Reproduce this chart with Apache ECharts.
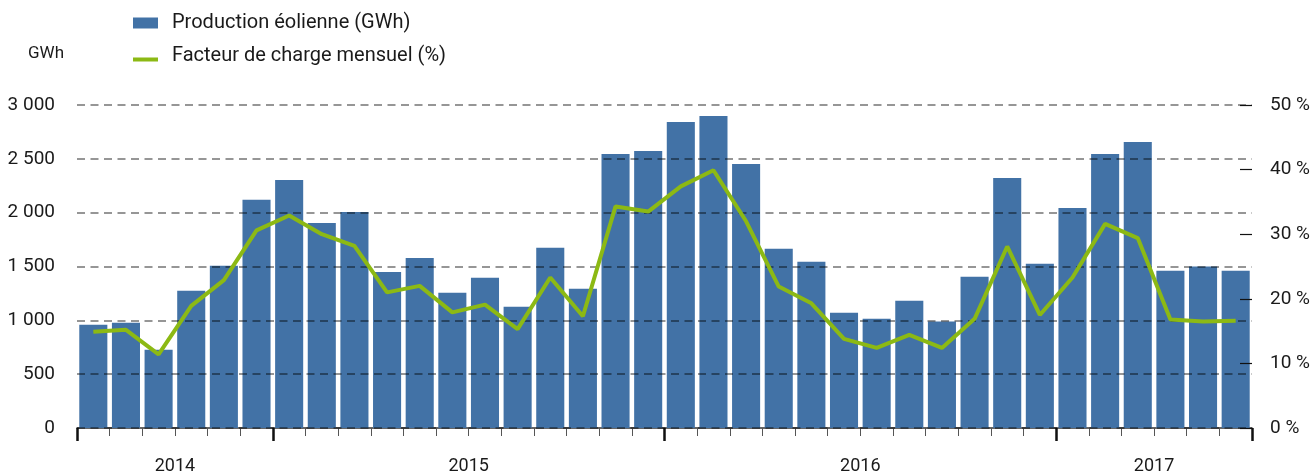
<!DOCTYPE html>
<html>
<head>
<meta charset="utf-8">
<script src="https://cdn.jsdelivr.net/npm/echarts@6/dist/echarts.min.js"></script>
<style>
html,body{margin:0;padding:0;background:#fff;}
#c{width:1316px;height:475px;}
</style>
</head>
<body>
<div id="c"></div>
<script>
const months = [
  'juil. 2014','août 2014','sept. 2014','oct. 2014','nov. 2014','déc. 2014',
  'janv. 2015','févr. 2015','mars 2015','avr. 2015','mai 2015','juin 2015',
  'juil. 2015','août 2015','sept. 2015','oct. 2015','nov. 2015','déc. 2015',
  'janv. 2016','févr. 2016','mars 2016','avr. 2016','mai 2016','juin 2016',
  'juil. 2016','août 2016','sept. 2016','oct. 2016','nov. 2016','déc. 2016',
  'janv. 2017','févr. 2017','mars 2017','avr. 2017','mai 2017','juin 2017'
];
const production = [
  960, 977, 727, 1274, 1506, 2119,
  2304, 1905, 2007, 1450, 1580, 1256,
  1395, 1126, 1673, 1293, 2545, 2573,
  2842, 2898, 2453, 1664, 1543, 1070,
  1014, 1181, 990, 1404, 2323, 1525,
  2044, 2545, 2657, 1460, 1500, 1460
];
const loadFactor = [
  14.9, 15.2, 11.4, 18.9, 22.9, 30.6,
  32.9, 30.0, 28.2, 21.0, 22.0, 17.9,
  19.1, 15.3, 23.3, 17.3, 34.3, 33.5,
  37.4, 39.9, 32.0, 21.9, 19.3, 13.8,
  12.4, 14.4, 12.4, 16.9, 28.1, 17.5,
  23.3, 31.6, 29.4, 16.8, 16.5, 16.6
];
const yearLabels = ['2014', '2015', '2016', '2017'];
const monthsPerYear = [6, 12, 12, 6];
const leftTicks = { min: 0, max: 3000, interval: 500 };
const rightTicks = { min: 0, max: 50, interval: 10 };

const FONT = "'Roboto', sans-serif";
const BLUE = '#4272a6';
const GREEN = '#8cb914';
const bounds = [0];
monthsPerYear.forEach(n => bounds.push(bounds[bounds.length - 1] + n));
const centers = monthsPerYear.map((n, i) => bounds[i] + n / 2);
const yearAt = {};
centers.forEach((c, i) => { yearAt[c] = yearLabels[i]; });

const chart = echarts.init(document.getElementById('c'));
chart.setOption({
  animation: false,
  textStyle: { fontFamily: FONT },
  title: {
    text: 'GWh', left: 23, top: 40,
    textStyle: { fontFamily: FONT, fontSize: 17, fontWeight: 'normal', color: '#1a1a1a' }
  },
  legend: {
    orient: 'vertical', left: 128, top: 8,
    itemWidth: 25, itemHeight: 11, itemGap: 13,
    textStyle: { fontFamily: FONT, fontSize: 20, color: '#1a1a1a', padding: [0, 0, 0, 9] },
    data: [
      { name: 'Production éolienne (GWh)', icon: 'rect', itemStyle: { color: BLUE } },
      { name: 'Facteur de charge mensuel (%)',
        icon: 'path://M0,7H25V11H0Z M0,0H0.01V0.01H0Z',
        itemStyle: { color: GREEN, borderWidth: 0 } }
    ]
  },
  grid: { left: 77, right: 64, top: 105, bottom: 45, containLabel: false },
  xAxis: [
    {
      type: 'category', data: months, position: 'bottom', gridIndex: 0,
      axisLine: { show: true, lineStyle: { color: '#333', width: 1.5 } },
      axisTick: { show: true, interval: 0, length: 8, lineStyle: { color: '#555', width: 1 } },
      axisLabel: { show: false },
      splitLine: { show: false }
    },
    {
      type: 'value', min: 0, max: bounds[bounds.length - 1], position: 'bottom', gridIndex: 0,
      axisLine: { show: false },
      axisTick: { show: true, customValues: bounds, length: 13, lineStyle: { color: '#111', width: 2.5 } },
      axisLabel: {
        show: true, customValues: centers, margin: 29,
        fontFamily: FONT, fontSize: 18, color: '#1a1a1a',
        formatter: v => yearAt[v] || ''
      },
      splitLine: { show: false }
    }
  ],
  yAxis: [
    {
      type: 'value', min: leftTicks.min, max: leftTicks.max, interval: leftTicks.interval,
      position: 'left', z: 3,
      axisLine: { show: false }, axisTick: { show: false },
      axisLabel: {
        margin: 22, fontFamily: FONT, fontSize: 19, color: '#1a1a1a',
        formatter: v => String(v).replace(/\B(?=(\d{3})+(?!\d))/g, ' ')
      },
      splitLine: { show: true, lineStyle: { color: 'rgba(0,0,0,0.55)', width: 1.5, type: [8, 5.5] } }
    },
    {
      type: 'value', min: rightTicks.min, max: rightTicks.max, interval: rightTicks.interval,
      position: 'right', z: 3,
      axisLine: { show: false },
      axisTick: { show: true, inside: true, length: 12, lineStyle: { color: '#111', width: 1.2 } },
      axisLabel: {
        margin: 18, fontFamily: FONT, fontSize: 19, color: '#1a1a1a',
        formatter: v => v + ' %'
      },
      splitLine: { show: false }
    }
  ],
  series: [
    {
      name: 'Production éolienne (GWh)', type: 'bar', data: production,
      xAxisIndex: 0, yAxisIndex: 0, barCategoryGap: '14%',
      itemStyle: { color: BLUE }, z: 2
    },
    {
      name: 'Facteur de charge mensuel (%)', type: 'line', data: loadFactor,
      xAxisIndex: 0, yAxisIndex: 1, symbol: 'none', z: 5,
      lineStyle: { color: GREEN, width: 4 }, itemStyle: { color: GREEN }
    }
  ]
});
</script>
</body>
</html>
